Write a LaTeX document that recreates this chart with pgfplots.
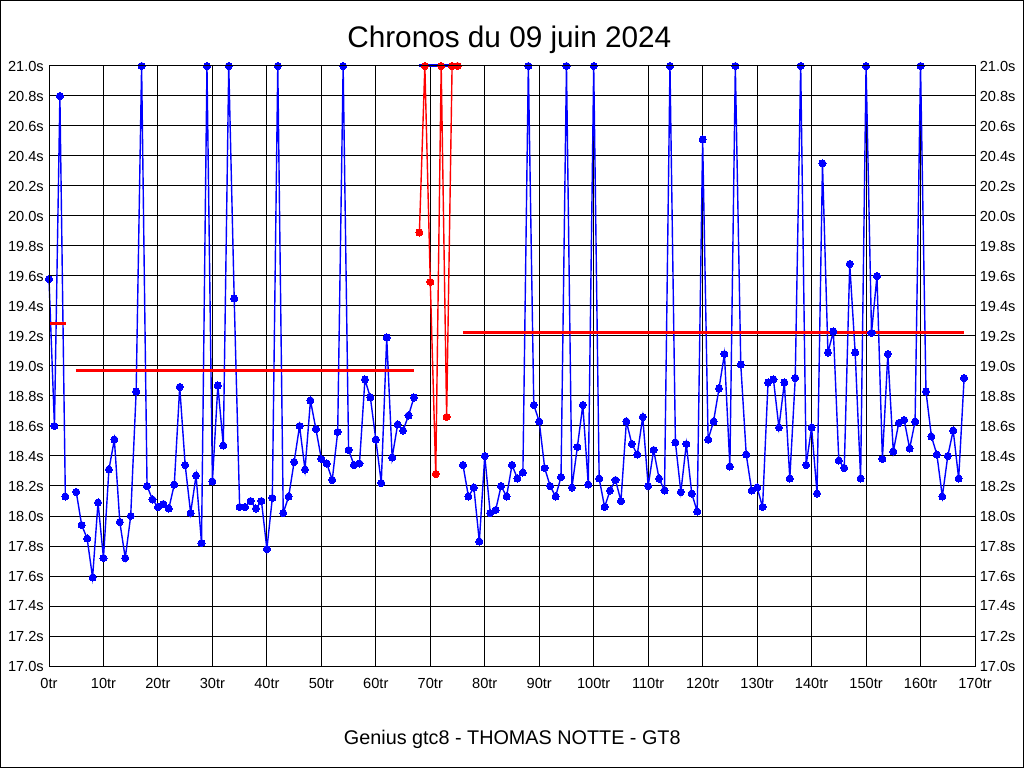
\documentclass[border=0pt]{standalone}
\usepackage{fontspec}
\setmainfont{Liberation Sans}
\usepackage{pgfplots}
\pgfplotsset{compat=1.18}
\definecolor{pblue}{RGB}{0,0,255}
\definecolor{pred}{RGB}{255,0,0}

\pgfplotsset{commonax/.style={
  at={(36.75pt,76.5pt)}, anchor=south west, scale only axis,
  width=694.5pt, height=450pt,
  xmin=0, xmax=170, ymin=17, ymax=21,
  major tick length=0pt,
  axis line style={black, line width=0.75pt},
  /pgf/number format/assume math mode=true,
  ticklabel style={font=\fontsize{10.95}{13}\selectfont, inner sep=0pt},
  ytick={17,17.2,17.4,17.6,17.8,18,18.2,18.4,18.6,18.8,19,19.2,19.4,19.6,19.8,20,20.2,20.4,20.6,20.8,21},
  yticklabels={17.0s,17.2s,17.4s,17.6s,17.8s,18.0s,18.2s,18.4s,18.6s,18.8s,19.0s,19.2s,19.4s,19.6s,19.8s,20.0s,20.2s,20.4s,20.6s,20.8s,21.0s},
}}

\begin{document}
\begin{tikzpicture}[x=1pt,y=1pt]
\draw[line width=0.75pt] (0.375,0.375) rectangle (767.625,575.625);
\node[anchor=base, font=\fontsize{22.3}{26}\selectfont] at (382,540.2) {Chronos du 09 juin 2024};
\node[anchor=base, font=\fontsize{14.85}{18}\selectfont] at (384.2,17.8) {Genius gtc8 - THOMAS NOTTE - GT8};

\begin{axis}[commonax,
  grid=major, major grid style={black, line width=0.75pt},
  xtick={0,10,...,170},
  xticklabels={0tr,10tr,20tr,30tr,40tr,50tr,60tr,70tr,80tr,90tr,100tr,110tr,120tr,130tr,140tr,150tr,160tr,170tr},
  xticklabel style={yshift=-8.8pt},
  yticklabel style={xshift=-3.75pt},
  clip=false]

% blue lines
\pgfplotsset{bl/.style={pblue, line width=1.05pt, no markers}}
\addplot[bl] coordinates {(0,19.58) (1,18.60) (2,20.80) (3,18.13)};
\addplot[bl] coordinates {
(5,18.16) (6,17.94) (7,17.85) (8,17.59) (9,18.09) (10,17.72) (11,18.31) (12,18.51) (13,17.96) (14,17.72)
(15,18.00) (16,18.83) (17,21.0) (18,18.20) (19,18.11) (20,18.06) (21,18.08) (22,18.05) (23,18.21) (24,18.86)
(25,18.34) (26,18.02) (27,18.27) (28,17.82) (29,21.0) (30,18.23) (31,18.87) (32,18.47) (33,21.0) (34,19.45)
(35,18.06) (36,18.06) (37,18.10) (38,18.05) (39,18.10) (40,17.78) (41,18.12) (42,21.0) (43,18.02) (44,18.13)
(45,18.36) (46,18.60) (47,18.31) (48,18.77) (49,18.58) (50,18.38) (51,18.35) (52,18.24) (53,18.56) (54,21.0)
(55,18.44) (56,18.34) (57,18.35) (58,18.91) (59,18.79) (60,18.51) (61,18.22) (62,19.19) (63,18.39) (64,18.61)
(65,18.57) (66,18.67) (67,18.79)};
\addplot[bl] coordinates {
(76,18.34) (77,18.13) (78,18.19) (79,17.83) (80,18.40) (81,18.02) (82,18.04) (83,18.20) (84,18.13) (85,18.34)
(86,18.25) (87,18.29) (88,21.0) (89,18.74) (90,18.63) (91,18.32) (92,18.20) (93,18.13) (94,18.26) (95,21.0)
(96,18.19) (97,18.46) (98,18.74) (99,18.21) (100,21.0) (101,18.25) (102,18.06) (103,18.17) (104,18.24) (105,18.10)
(106,18.63) (107,18.48) (108,18.41) (109,18.66) (110,18.20) (111,18.44) (112,18.25) (113,18.17) (114,21.0) (115,18.49)
(116,18.16) (117,18.48) (118,18.15) (119,18.03) (120,20.51) (121,18.51) (122,18.63) (123,18.85) (124,19.08) (125,18.33)
(126,21.0) (127,19.01) (128,18.41) (129,18.17) (130,18.19) (131,18.06) (132,18.89) (133,18.91) (134,18.59) (135,18.89)
(136,18.25) (137,18.92) (138,21.0) (139,18.34) (140,18.59) (141,18.15) (142,20.35) (143,19.09) (144,19.23) (145,18.37)
(146,18.32) (147,19.68) (148,19.09) (149,18.25) (150,21.0) (151,19.22) (152,19.60) (153,18.38) (154,19.08) (155,18.43)
(156,18.62) (157,18.64) (158,18.45) (159,18.63) (160,21.0) (161,18.83) (162,18.53) (163,18.41) (164,18.13) (165,18.40)
(166,18.57) (167,18.25) (168,18.92)};
\addplot[pblue, line width=2.25pt, no markers] coordinates {(68,21.0) (75,21.0)};

% stint averages
\addplot[pred, line width=2.25pt, no markers] coordinates {(0,19.28) (3.1,19.28)};
\addplot[pred, line width=2.25pt, no markers] coordinates {(4.9,18.97) (67,18.97)};
\addplot[pred, line width=2.25pt, no markers] coordinates {(76,19.22) (168,19.22)};

% blue markers
\pgfplotsset{bm/.style={only marks, mark=*, mark size=2.65pt, mark options={fill=pblue, draw=pblue, line width=0pt}}}
\addplot[bm] coordinates {(0,19.58) (1,18.60) (2,20.80) (3,18.13)};
\addplot[bm] coordinates {
(5,18.16) (6,17.94) (7,17.85) (8,17.59) (9,18.09) (10,17.72) (11,18.31) (12,18.51) (13,17.96) (14,17.72)
(15,18.00) (16,18.83) (17,21.0) (18,18.20) (19,18.11) (20,18.06) (21,18.08) (22,18.05) (23,18.21) (24,18.86)
(25,18.34) (26,18.02) (27,18.27) (28,17.82) (29,21.0) (30,18.23) (31,18.87) (32,18.47) (33,21.0) (34,19.45)
(35,18.06) (36,18.06) (37,18.10) (38,18.05) (39,18.10) (40,17.78) (41,18.12) (42,21.0) (43,18.02) (44,18.13)
(45,18.36) (46,18.60) (47,18.31) (48,18.77) (49,18.58) (50,18.38) (51,18.35) (52,18.24) (53,18.56) (54,21.0)
(55,18.44) (56,18.34) (57,18.35) (58,18.91) (59,18.79) (60,18.51) (61,18.22) (62,19.19) (63,18.39) (64,18.61)
(65,18.57) (66,18.67) (67,18.79)};
\addplot[bm] coordinates {
(76,18.34) (77,18.13) (78,18.19) (79,17.83) (80,18.40) (81,18.02) (82,18.04) (83,18.20) (84,18.13) (85,18.34)
(86,18.25) (87,18.29) (88,21.0) (89,18.74) (90,18.63) (91,18.32) (92,18.20) (93,18.13) (94,18.26) (95,21.0)
(96,18.19) (97,18.46) (98,18.74) (99,18.21) (100,21.0) (101,18.25) (102,18.06) (103,18.17) (104,18.24) (105,18.10)
(106,18.63) (107,18.48) (108,18.41) (109,18.66) (110,18.20) (111,18.44) (112,18.25) (113,18.17) (114,21.0) (115,18.49)
(116,18.16) (117,18.48) (118,18.15) (119,18.03) (120,20.51) (121,18.51) (122,18.63) (123,18.85) (124,19.08) (125,18.33)
(126,21.0) (127,19.01) (128,18.41) (129,18.17) (130,18.19) (131,18.06) (132,18.89) (133,18.91) (134,18.59) (135,18.89)
(136,18.25) (137,18.92) (138,21.0) (139,18.34) (140,18.59) (141,18.15) (142,20.35) (143,19.09) (144,19.23) (145,18.37)
(146,18.32) (147,19.68) (148,19.09) (149,18.25) (150,21.0) (151,19.22) (152,19.60) (153,18.38) (154,19.08) (155,18.43)
(156,18.62) (157,18.64) (158,18.45) (159,18.63) (160,21.0) (161,18.83) (162,18.53) (163,18.41) (164,18.13) (165,18.40)
(166,18.57) (167,18.25) (168,18.92)};

% red stint
\addplot[pred, line width=1.05pt, mark=*, mark size=2.65pt, mark options={fill=pred, draw=pred, line width=0pt}] coordinates {
(68,19.89) (69,21.0) (70,19.56) (71,18.28) (72,21.0) (73,18.66) (74,21.0) (75,21.0)};
\end{axis}

\begin{axis}[commonax,
  xtick=\empty,
  yticklabel pos=right,
  yticklabel style={xshift=3.4pt}]
\addplot[draw=none, no markers] coordinates {(0,17) (170,21)};
\end{axis}
\end{tikzpicture}
\end{document}
